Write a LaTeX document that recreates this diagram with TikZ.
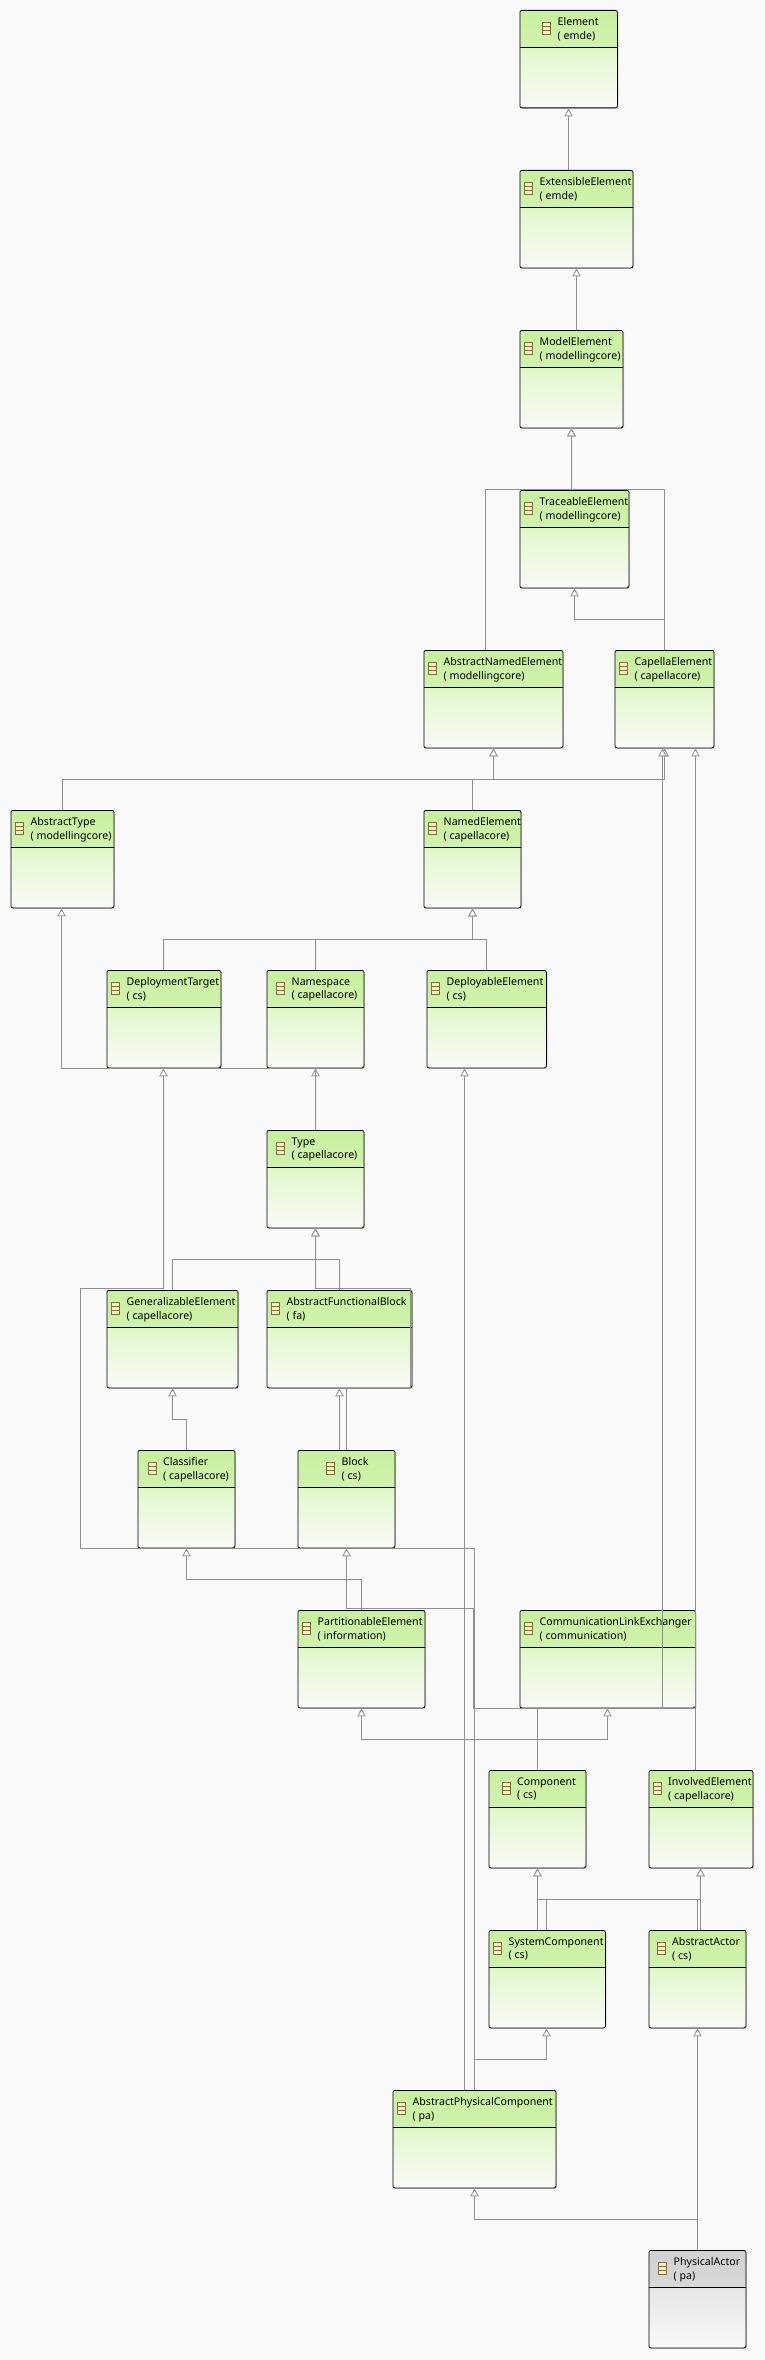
\documentclass[tikz,border=0pt]{standalone}
\usepackage{fontspec}
\setmainfont{Noto Sans}
\usetikzlibrary{arrows.meta,calc,shadows}

\definecolor{pagecol}{HTML}{F9F9F9}
\definecolor{linkcol}{HTML}{8F8F8F}
\definecolor{tipcol}{HTML}{A0A0A0}
\definecolor{shadowcol}{HTML}{DAD7DE}
\definecolor{iconline}{HTML}{85703A}
\definecolor{iconfill}{HTML}{F7EDC4}
\definecolor{headtop}{HTML}{C8F0A0}
\definecolor{headlow}{HTML}{DCF5C2}
\definecolor{bodytop}{HTML}{DFF8C9}
\definecolor{bodylow}{HTML}{FAFAF8}

\tikzset{
  classbox/.style n args={4}{draw=black, line width=0.8pt, rounded corners=2pt, inner sep=0pt,
    minimum height=97.5pt, anchor=north west, fill=white,
    drop shadow={shadow xshift=1.3pt, shadow yshift=-1.3pt, fill=shadowcol, opacity=1},
    path picture={
      \shade[top color=#1, bottom color=#2] (path picture bounding box.north west) rectangle ([yshift=-36.5pt]path picture bounding box.north east);
      \shade[top color=#3, bottom color=#4] ([yshift=-36.5pt]path picture bounding box.north west) rectangle (path picture bounding box.south east);
      \draw[black, line width=0.7pt] ([yshift=-36.5pt]path picture bounding box.north west) -- ([yshift=-36.5pt]path picture bounding box.north east);
    }},
  greenbox/.style={classbox={headtop}{headlow}{bodytop}{bodylow}},
  graybox/.style={classbox={black!18}{black!11}{black!10}{pagecol}},
  classtext/.style={anchor=north west, inner sep=0pt, align=left, font=\fontsize{10.6}{13.3}\selectfont},
  iconbox/.style={draw=iconline, fill=iconfill, line width=0.8pt, anchor=west, inner sep=0pt,
    minimum width=8pt, minimum height=12pt,
    path picture={
      \draw[iconline, line width=0.7pt] ($(path picture bounding box.north west)!.33!(path picture bounding box.south west)$) -- ($(path picture bounding box.north east)!.33!(path picture bounding box.south east)$);
      \draw[iconline, line width=0.7pt] ($(path picture bounding box.north west)!.67!(path picture bounding box.south west)$) -- ($(path picture bounding box.north east)!.67!(path picture bounding box.south east)$);
    }},
  gen/.style={draw=linkcol, line width=1pt, -{Triangle[open, length=8pt, width=8.5pt, fill=pagecol, color=tipcol]}}
}

% style, name, left, top, width, text offset, first line, second line
\newcommand{\umlclass}[8]{
  \node[#1, minimum width=#5pt] (#2) at (#3,#4) {};
  \node[classtext] (#2-text) at ([xshift=#6pt, yshift=-7.5pt]#2.north west) {#7\\( #8)};
  \node[iconbox] (#2-icon) at ([xshift=#6pt-15.3pt, yshift=-18.3pt]#2.north west) {};
}

\begin{document}
\begin{tikzpicture}[x=1pt, y=-1pt]
    \fill[pagecol] (0,0) rectangle (765,2360);
    \useasboundingbox (0,0) rectangle (765,2360);

    \umlclass{greenbox}{element}{519.5}{10}{97.5}{38}{Element}{emde}
    \umlclass{greenbox}{extensible}{519.5}{170}{113}{20}{ExtensibleElement}{emde}
    \umlclass{greenbox}{modelelem}{519.5}{330}{103}{20}{ModelElement}{modellingcore}
    \umlclass{greenbox}{traceable}{519.5}{490}{109}{20}{TraceableElement}{modellingcore}
    \umlclass{greenbox}{abstractnamed}{423.5}{650}{139}{20}{AbstractNamedElement}{modellingcore}
    \umlclass{greenbox}{capella}{614.5}{650}{99}{20}{CapellaElement}{capellacore}
    \umlclass{greenbox}{abstracttype}{10.5}{810}{103}{20}{AbstractType}{modellingcore}
    \umlclass{greenbox}{named}{423.5}{810}{97}{20}{NamedElement}{capellacore}
    \umlclass{greenbox}{deploytarget}{106.5}{970}{114}{20}{DeploymentTarget}{cs}
    \umlclass{greenbox}{namespace}{266.5}{970}{97}{25}{Namespace}{capellacore}
    \umlclass{greenbox}{deployable}{426.5}{970}{119.5}{20}{DeployableElement}{cs}
    \umlclass{greenbox}{typeelem}{266.5}{1130}{97}{25}{Type}{capellacore}
    \umlclass{greenbox}{generalizable}{106.5}{1290}{131}{20}{GeneralizableElement}{capellacore}
    \umlclass{greenbox}{functionalblock}{266.5}{1290}{145}{20}{AbstractFunctionalBlock}{fa}
    \umlclass{greenbox}{classifier}{137.5}{1450}{97}{25.5}{Classifier}{capellacore}
    \umlclass{greenbox}{block}{297.5}{1450}{97}{44}{Block}{cs}
    \umlclass{greenbox}{partitionable}{297.5}{1610}{127}{20}{PartitionableElement}{information}
    \umlclass{greenbox}{commlink}{519.5}{1610}{175.5}{20}{CommunicationLinkExchanger}{communication}
    \umlclass{greenbox}{component}{488.5}{1770}{97}{28.5}{Component}{cs}
    \umlclass{greenbox}{involved}{648.5}{1770}{104}{19.5}{InvolvedElement}{capellacore}
    \umlclass{greenbox}{syscomponent}{488.5}{1930}{116.5}{20}{SystemComponent}{cs}
    \umlclass{greenbox}{abstractactor}{648.5}{1930}{97}{23.5}{AbstractActor}{cs}
    \umlclass{greenbox}{physcomponent}{392.5}{2090}{163}{20}{AbstractPhysicalComponent}{pa}
    \umlclass{graybox}{physactor}{648.5}{2250}{97}{25}{PhysicalActor}{pa}

    % upper part
    \draw[gen] (extensible.north -| 568.5,0) -- (element.south -| 568.5,0);
    \draw[gen] (modelelem.north -| 576.5,0) -- (extensible.south -| 576.5,0);
    \draw[gen] (traceable.north -| 571.5,0) -- (modelelem.south -| 571.5,0);
    \draw[gen] (abstractnamed.north -| 485.5,0) |- (571.5,489.5) -- (modelelem.south -| 571.5,0);
    \draw[gen] (capella.north -| 664.5,0) |- (571.5,489.5) -- (modelelem.south -| 571.5,0);
    \draw[gen] (capella.north -| 664.5,0) |- (574.5,619.5) -- (traceable.south -| 574.5,0);
    \draw[gen] (named.north -| 472.5,0) |- (493.5,779.5) -- (abstractnamed.south -| 493.5,0);
    \draw[gen] (named.north -| 472.5,0) |- (664.5,779.5) -- (capella.south -| 664.5,0);
    \draw[gen] (abstracttype.north -| 62.5,0) |- (493.5,779.5) -- (abstractnamed.south -| 493.5,0);
    \draw[gen] (abstracttype.north -| 62.5,0) |- (664.5,779.5) -- (capella.south -| 664.5,0);
    \draw[gen] (deploytarget.north -| 163.5,0) |- (472.5,939.5) -- (named.south -| 472.5,0);
    \draw[gen] (namespace.north -| 315.5,0) |- (472.5,939.5) -- (named.south -| 472.5,0);
    \draw[gen] (deployable.north -| 486.5,0) |- (472.5,939.5) -- (named.south -| 472.5,0);
    \draw[gen] (typeelem.north -| 315.5,0) -- (namespace.south -| 315.5,0);
    \draw[gen] (typeelem.north -| 315.5,0) |- (61.5,1068.5) -- (abstracttype.south -| 61.5,0);

    % middle part
    \draw[gen] (generalizable.north -| 172.5,0) |- (315.5,1259.5) -- (typeelem.south -| 315.5,0);
    \draw[gen] (functionalblock.north -| 339.5,0) |- (315.5,1259.5) -- (typeelem.south -| 315.5,0);
    \draw[gen] (block.north -| 346.5,0) |- (410,1388.5) |- (315.5,1288.5) -- (typeelem.south -| 315.5,0);
    \draw[gen] (block.north -| 339.5,0) -- (functionalblock.south -| 339.5,0);
    \draw[gen] (classifier.north -| 186.5,0) |- (172.5,1419.5) -- (generalizable.south -| 172.5,0);
    \draw[gen] (partitionable.north -| 361.5,0) |- (186.5,1579.5) -- (classifier.south -| 186.5,0);
    \draw[gen] (component.north -| 537.5,0) |- (473.5,1708.5) |- (346.5,1608.5) -- (block.south -| 346.5,0);
    \draw[gen] (component.north -| 537.5,0) |- (662.5,1708.5) -- (capella.south -| 662.5,0);
    \draw[gen] (component.north -| 537.5,0) |- (361.5,1739.5) -- (partitionable.south -| 361.5,0);
    \draw[gen] (component.north -| 537.5,0) |- (607.5,1739.5) -- (commlink.south -| 607.5,0);
    \draw[gen] (involved.north -| 695.5,0) -- (capella.south -| 695.5,0);

    % lower part
    \draw[gen] (syscomponent.north -| 537.5,0) -- (component.south -| 537.5,0);
    \draw[gen] (syscomponent.north -| 546.5,0) |- (700.5,1899.5) -- (involved.south -| 700.5,0);
    \draw[gen] (abstractactor.north -| 697.5,0) |- (537.5,1899.5) -- (component.south -| 537.5,0);
    \draw[gen] (abstractactor.north -| 700.5,0) -- (involved.south -| 700.5,0);
    \draw[gen] (physcomponent.north -| 474.5,0) |- (80.5,1548.5) |- (163.5,1288.5) -- (deploytarget.south -| 163.5,0);
    \draw[gen] (physcomponent.north -| 464.5,0) -- (deployable.south -| 464.5,0);
    \draw[gen] (physcomponent.north -| 474.5,0) |- (546.5,2059.5) -- (syscomponent.south -| 546.5,0);
    \draw[gen] (physactor.north -| 697.5,0) -- (abstractactor.south -| 697.5,0);
    \draw[gen] (physactor.north -| 697.5,0) |- (474.5,2219.5) -- (physcomponent.south -| 474.5,0);
\end{tikzpicture}
\end{document}
